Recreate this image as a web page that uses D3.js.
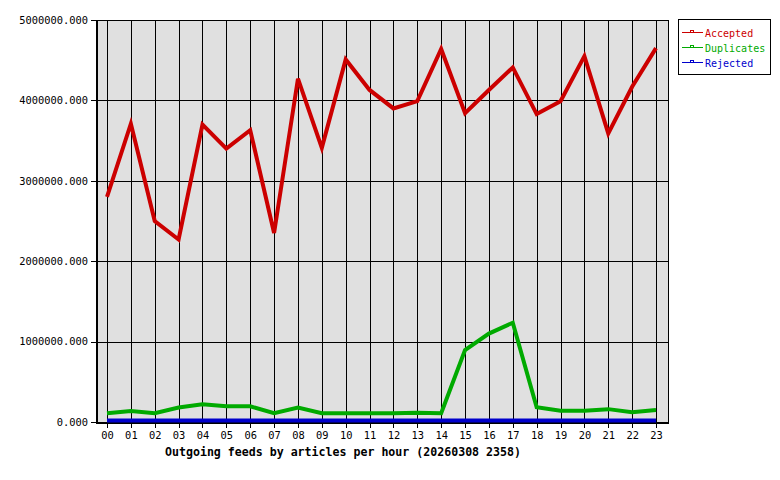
<!DOCTYPE html>
<html>
<head>
<meta charset="utf-8">
<script src="https://d3js.org/d3.v7.min.js"></script>
<style>
body { margin: 0; background: #fff; }
svg text { font-family: "DejaVu Sans Mono", monospace; font-size: 10.4px; }
.axis path, .axis line { stroke: #000; shape-rendering: crispEdges; }
</style>
</head>
<body>
<svg width="780" height="480"></svg>
<script>
var hours = ["00","01","02","03","04","05","06","07","08","09","10","11",
             "12","13","14","15","16","17","18","19","20","21","22","23"];
var accepted = [2800000,3710000,2500000,2270000,3700000,3400000,3630000,2350000,
                4270000,3410000,4510000,4130000,3900000,3990000,4640000,3840000,
                4130000,4410000,3830000,3990000,4550000,3590000,4170000,4650000];
var duplicates = [110000,137000,110000,180000,220000,195000,195000,110000,
                  180000,110000,110000,110000,110000,116000,108000,895000,
                  1100000,1235000,183000,140000,140000,160000,120000,150000];
var rejected = [20000,20000,20000,20000,20000,20000,20000,20000,
                20000,20000,20000,20000,20000,20000,20000,20000,
                20000,20000,20000,20000,20000,20000,20000,20000];
var yTicks = [0,1000000,2000000,3000000,4000000,5000000];
var seriesNames = ["Accepted","Duplicates","Rejected"];
var seriesColors = ["#cc0000","#00aa00","#0000cc"];

function draw() {
  var svg = d3.select("svg");
  var pLeft = 96, pRight = 668, pTop = 20, pBottom = 422;

  var x = d3.scalePoint().domain(hours).range([107, 656]);
  var y = d3.scaleLinear().domain([0, 5000000]).range([pBottom, pTop]);

  // plot background
  svg.append("rect")
     .attr("x", pLeft + 0.5).attr("y", pTop + 0.5)
     .attr("width", pRight - pLeft).attr("height", pBottom - pTop)
     .attr("fill", "#e0e0e0").attr("stroke", "#000")
     .attr("shape-rendering", "crispEdges");

  // grid
  svg.append("g").selectAll("line").data(hours).enter().append("line")
     .attr("x1", d => Math.round(x(d)) + 0.5).attr("x2", d => Math.round(x(d)) + 0.5)
     .attr("y1", pTop).attr("y2", pBottom)
     .attr("stroke", "#000").attr("shape-rendering", "crispEdges");
  svg.append("g").selectAll("line").data(yTicks).enter().append("line")
     .attr("x1", pLeft).attr("x2", pRight)
     .attr("y1", d => Math.round(y(d)) + 0.5).attr("y2", d => Math.round(y(d)) + 0.5)
     .attr("stroke", "#000").attr("shape-rendering", "crispEdges");

  // axes
  svg.append("g").attr("class", "axis")
     .attr("transform", "translate(" + pLeft + ",0)")
     .call(d3.axisLeft(y).tickValues(yTicks).tickSize(5).tickPadding(3)
             .tickFormat(d3.format(".3f")))
     .call(g => g.select(".domain").remove())
     .selectAll("text").attr("fill", "#000");
  svg.append("g").attr("class", "axis")
     .attr("transform", "translate(0," + pBottom + ")")
     .call(d3.axisBottom(x).tickSize(6).tickPadding(4))
     .call(g => g.select(".domain").remove())
     .selectAll("text").attr("fill", "#000");

  svg.append("line").attr("x1", pLeft).attr("x2", pRight + 1)
     .attr("y1", pBottom + 1).attr("y2", pBottom + 1)
     .attr("stroke", "#000").attr("stroke-width", 2).attr("shape-rendering", "crispEdges");
  svg.append("line").attr("x1", pLeft + 1).attr("x2", pLeft + 1)
     .attr("y1", pTop).attr("y2", pBottom)
     .attr("stroke", "#000").attr("stroke-width", 2).attr("shape-rendering", "crispEdges");

  // lines
  var line = d3.line().x((d, i) => x(hours[i])).y(d => y(d));
  [accepted, duplicates, rejected].forEach(function(s, i) {
    svg.append("path").datum(s)
       .attr("d", line)
       .attr("fill", "none")
       .attr("stroke", seriesColors[i])
       .attr("stroke-width", 4)
       .attr("stroke-linejoin", "miter");
  });

  // title
  svg.append("text")
     .attr("x", 343).attr("y", 456)
     .attr("text-anchor", "middle")
     .attr("font-weight", "bold")
     .style("font-size", "11.6px")
     .text("Outgoing feeds by articles per hour (20260308 2358)");

  // legend
  var lg = svg.append("g");
  lg.append("rect").attr("x", 678.5).attr("y", 19.5).attr("width", 92).attr("height", 55)
    .attr("fill", "#fff").attr("stroke", "#000").attr("shape-rendering", "crispEdges");
  seriesNames.forEach(function(n, i) {
    var yy = 33 + i * 15;
    lg.append("line").attr("x1", 682).attr("x2", 703).attr("y1", yy - 0.5).attr("y2", yy - 0.5)
      .attr("stroke", seriesColors[i]).attr("shape-rendering", "crispEdges");
    lg.append("rect").attr("x", 690.5).attr("y", yy - 2.5).attr("width", 3).attr("height", 2)
      .attr("fill", "none").attr("stroke", seriesColors[i]).attr("shape-rendering", "crispEdges");
    lg.append("text").attr("x", 705).attr("y", yy + 4)
      .attr("fill", seriesColors[i]).style("font-size", "10px").text(n);
  });
}
draw();
</script>
</body>
</html>
